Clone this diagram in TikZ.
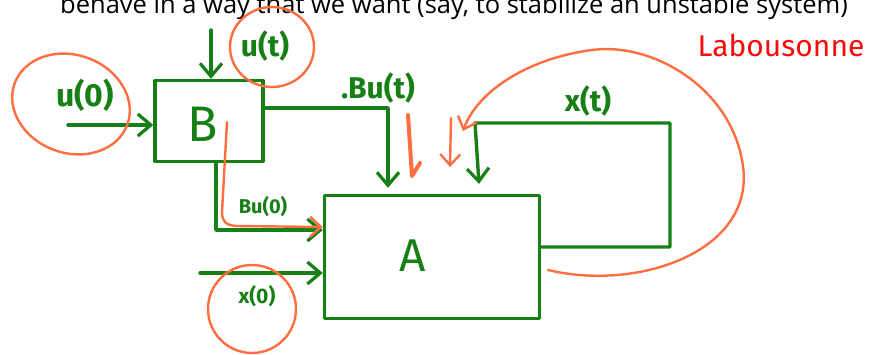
\documentclass[tikz,border=0pt]{standalone}
\usepackage{fontspec}
\setmainfont{Open Sans}
\newfontfamily\handfont{Fira Sans}
\usetikzlibrary{arrows.meta,calc}
\definecolor{pen}{RGB}{22,128,22}
\definecolor{hl}{RGB}{255,110,64}
\definecolor{redpen}{RGB}{250,10,10}
\tikzset{
  gline/.style={draw=pen,line width=3.4pt,line cap=round,line join=round},
  garrow/.style={gline,-{Straight Barb[length=13pt,width=22pt,line width=3.2pt]}},
  oline/.style={draw=hl,line width=2.4pt,line cap=round,line join=round},
  oarrow/.style={oline,-{Straight Barb[length=11pt,width=20pt,line width=2.4pt]}},
  boxnode/.style={gline,rectangle,inner sep=0pt},
  lab/.style={text=pen,font=\handfont\bfseries,inner sep=0pt},
}
\begin{document}
\begin{tikzpicture}[x=1pt,y=-1pt]
\useasboundingbox (0,0) rectangle (877,355);
\fill[white] (0,0) rectangle (877,355);
% top text, cut by the page edge as in the reference
\begin{scope}
\clip (0,0) rectangle (877,355);
\node[anchor=base west,inner sep=0pt,font=\fontsize{25.5}{27}\selectfont] (top) at (60,14) {behave in a way that we want (say, to stabilize an unstable system)};
\end{scope}
% boxes
\node[boxnode,minimum width=108pt,minimum height=81pt] (B) at (209,121) {};
\node[boxnode,minimum width=215pt,minimum height=123pt] (A) at (432,257) {};
\node[lab,font=\handfont\fontsize{50}{50}\selectfont] (Bl) at (203,124) {B};
\node[lab,font=\handfont\fontsize{46}{46}\selectfont] (Al) at (413,256) {A};
% coordinates
\coordinate (u0in) at (68,125);
\coordinate (utin) at (211,30);
\coordinate (bt) at (388,108);
\coordinate (bz) at (216,230);
\coordinate (x0in) at (200,273);
\coordinate (xr) at (670,247);
\coordinate (xl) at (475,123);
% green connectors
\draw[garrow] (u0in) -- (u0in -| B.west);
\draw[garrow] (utin) -- (utin |- B.north);
\draw[garrow] (B.east |- bt) -- (bt) -- ($(bt |- A.north)+(0,-6)$);
\draw[garrow] (bz |- B.south) -- (bz) -- (bz -| A.west);
\draw[garrow] (x0in) -- (x0in -| A.west);
\draw[garrow] (A.east |- xr) -- (xr) -- (xr |- xl) -- (xl) -- ($(xl |- A.north)+(4,-10)$);
% green labels
\node[lab,font=\handfont\bfseries\fontsize{32}{32}\selectfont] (u0) at (85,95) {u(0)};
\node[lab,font=\handfont\bfseries\fontsize{30}{30}\selectfont] (ut) at (265,46) {u(t)};
\node[lab,font=\handfont\bfseries\fontsize{30}{30}\selectfont] (but) at (378,88) {.Bu(t)};
\node[lab,font=\handfont\bfseries\fontsize{20}{20}\selectfont] (bu0) at (263,207) {Bu(0)};
\node[lab,font=\handfont\bfseries\fontsize{21}{21}\selectfont] (x0) at (257,296) {x(0)};
\node[lab,font=\handfont\bfseries\fontsize{30}{30}\selectfont] (xt) at (588,101) {x(t)};
% red name
\node[text=redpen,inner sep=0pt,font=\handfont\fontsize{30}{30}\selectfont] (name) at (781,45) {Labousonne};
% orange highlights
\draw[oline,rotate around={-20:(71,104)}] (71,104) ellipse [x radius=60, y radius=49];
\draw[oline] (272,47) ellipse [x radius=42, y radius=40];
\draw[oline] (252,309) circle [radius=44];
\coordinate (os) at (227,122);
\draw[oarrow] (os) -- (222,212) .. controls (222,222) and (226,225) .. (236,226) -- (A.west |- 0,227);
\coordinate (o1) at (408,115);
\coordinate (o2) at (451,118);
\draw[oline,line width=4pt] (o1) -- (412,176) -- (420,163);
\draw[oarrow] (o2) -- (450,167);
\coordinate (oe) at (463,131);
\draw[oarrow] (548,270) .. controls (640,292) and (760,250) .. (742,160)
  .. controls (728,85) and (650,42) .. (592,50)
  .. controls (530,58) and (478,90) .. (oe);
\end{tikzpicture}
\end{document}
